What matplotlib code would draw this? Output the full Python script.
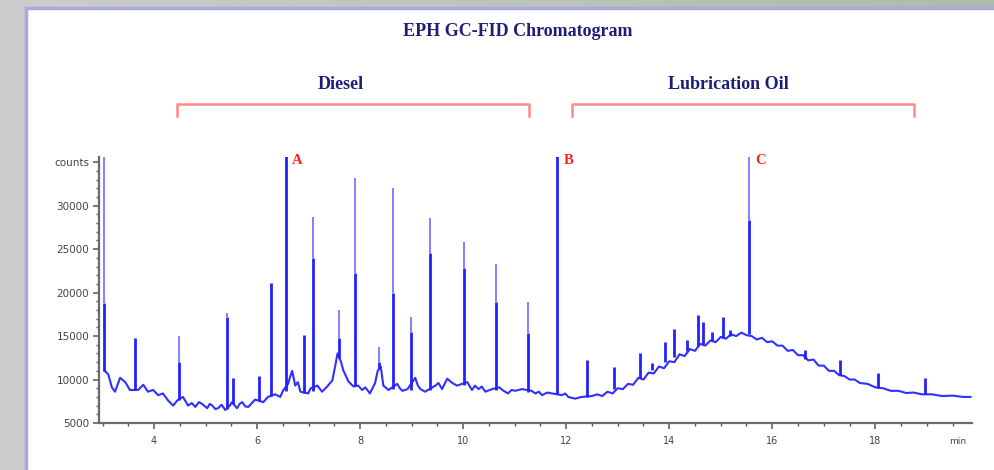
import matplotlib
matplotlib.use("Agg")
import matplotlib.pyplot as plt
import numpy as np
from matplotlib.patches import Rectangle
from matplotlib.ticker import MultipleLocator
import matplotlib.transforms as mtrans

# baseline of the trace (min, counts)
base_t = [3.04, 3.11, 3.18, 3.24, 3.34, 3.44, 3.53, 3.69, 3.79, 3.88, 3.98, 4.08,
          4.17, 4.27, 4.37, 4.45, 4.56, 4.66, 4.73, 4.80, 4.87, 4.93, 5.03, 5.08,
          5.13, 5.19, 5.24, 5.31, 5.38, 5.47, 5.51, 5.61, 5.66, 5.71, 5.77, 5.83,
          5.90, 5.96, 6.12, 6.21, 6.35, 6.45, 6.50, 6.60, 6.64, 6.68, 6.74, 6.79,
          6.84, 6.99, 7.04, 7.17, 7.26, 7.36, 7.46, 7.52, 7.56, 7.63, 7.67, 7.77,
          7.87, 7.96, 8.04, 8.10, 8.19, 8.29, 8.34, 8.40, 8.45, 8.55, 8.72, 8.77,
          8.82, 8.92, 9.07, 9.12, 9.17, 9.26, 9.46, 9.52, 9.59, 9.69, 9.79, 9.88,
          10.08, 10.17, 10.23, 10.30, 10.36, 10.43, 10.56, 10.70, 10.76, 10.87, 10.94,
          11.01, 11.14, 11.33, 11.40, 11.47, 11.53, 11.63, 11.73, 11.92, 11.98, 12.04,
          12.17, 12.30, 12.50, 12.60, 12.70, 12.80, 12.90, 13.00, 13.10, 13.20, 13.30,
          13.40, 13.50, 13.60, 13.70, 13.80, 13.90, 14.00, 14.10, 14.20, 14.30, 14.40,
          14.50, 14.60, 14.70, 14.80, 14.90, 15.00, 15.10, 15.20, 15.30, 15.40, 15.50,
          15.60, 15.70, 15.80, 15.90, 16.00, 16.10, 16.20, 16.30, 16.40, 16.50, 16.60,
          16.70, 16.80, 16.90, 17.00, 17.10, 17.20, 17.30, 17.40, 17.50, 17.60, 17.70,
          17.85, 18.00, 18.15, 18.30, 18.45, 18.60, 18.75, 18.90, 19.10, 19.30, 19.50,
          19.70, 19.85]
base_y = [11000, 10600, 9100, 8600, 10200, 9700, 8800, 8800, 9400, 8600, 8800, 8200,
          8400, 7600, 7000, 7600, 8000, 7000, 7300, 6850, 7400, 7200, 6700, 7200,
          7000, 6600, 6700, 7100, 6500, 7000, 7400, 6700, 7200, 7400, 6900, 6850,
          7300, 7700, 7400, 8000, 8300, 8000, 8700, 9500, 10300, 11000, 9300, 9700,
          8600, 8400, 9000, 9300, 8600, 9200, 9900, 11700, 13000, 12000, 11100, 9800,
          9200, 9300, 8800, 9100, 8400, 9600, 11000, 11500, 9300, 8800, 9500, 9000,
          8700, 8900, 10200, 9300, 8900, 8600, 9300, 9600, 8900, 10100, 9600, 9300,
          9700, 8800, 9300, 8900, 9200, 8600, 8900, 9100, 8800, 8400, 8800,
          8700, 8900, 8700, 8400, 8600, 8200, 8500, 8400, 8200, 8400, 8000,
          7800, 8000, 8100, 8300, 8100, 8600, 8400, 9000, 8900, 9500, 9400,
          10200, 10000, 10800, 10700, 11500, 11300, 12100, 12000, 12900, 12700, 13500,
          13300, 14100, 13900, 14500, 14300, 14900, 14700, 15200, 15000, 15400, 15100,
          15000, 14600, 14800, 14300, 14400, 13900, 13900, 13300, 13400, 12800, 12800,
          12200, 12300, 11600, 11600, 11000, 11000, 10500, 10400, 10000, 10000, 9600,
          9500, 9100, 9000, 8700, 8700, 8450, 8500, 8300, 8300, 8100, 8150,
          8000, 8000]

# peaks: retention time, apex, where the line turns pale, foot
peak_t = [3.03, 3.63, 4.49, 5.42, 5.53, 6.04, 6.27, 6.56, 6.91, 7.08, 7.59, 7.90,
          8.37, 8.64, 8.99, 9.36, 10.02, 10.64, 11.26, 11.83, 12.41, 12.93, 13.44,
          13.67, 13.92, 14.10, 14.35, 14.56, 14.66, 14.83, 15.05, 15.18, 15.55,
          16.64, 17.32, 18.06, 18.97]
peak_top = [40000, 14800, 15000, 17600, 10200, 10400, 21100, 40000, 15100, 28700, 18000, 33200,
            13700, 32000, 17200, 28600, 25800, 23300, 18900, 40000, 12200, 11400, 13000,
            11900, 14300, 15800, 14500, 17400, 16600, 15500, 17200, 15700, 40000,
            13400, 12200, 10750, 10200]
peak_core = [18800, 14800, 12000, 17200, 10200, 10400, 21100, 40000, 15100, 24000, 14800, 22250,
             12000, 20000, 15500, 24500, 22800, 18900, 15300, 40000, 12200, 11400, 13000,
             11900, 14300, 15800, 14500, 17400, 16600, 15500, 17200, 15700, 28300,
             13400, 12200, 10750, 10200]
peak_foot = [11000, 8900, 7700, 6600, 7200, 7500, 8100, 8700, 8500, 8700, 12500, 9200,
             11200, 8900, 8800, 8800, 9400, 8800, 8600, 8300, 8000, 8900, 10200,
             11100, 12000, 12600, 13300, 13900, 14100, 14400, 14800, 15000, 15200,
             12400, 10500, 9000, 8300]

peak_names = ["A", "B", "C"]
peak_name_t = [6.56, 11.83, 15.55]

# fuel ranges shown with brackets
ranges = ["Diesel", "Lubrication Oil"]
range_start = [4.45, 12.12]
range_end = [11.28, 18.76]
range_label_t = [7.63, 15.15]

y_ticks = [5000, 10000, 15000, 20000, 25000, 30000, 35000]
y_labels = ["5000", "10000", "15000", "20000", "25000", "30000", "counts"]
x_ticks = [4, 6, 8, 10, 12, 14, 16, 18]

fig = plt.figure(figsize=(9.95, 4.70), dpi=100)

# screenshot backdrop and white panel
bg = fig.add_axes([0, 0, 1, 1], zorder=-10)
grad = np.linspace(0, 1, 200)
left_c = np.array([205, 205, 205]) / 255
right_c = np.array([172, 188, 168]) / 255
img = (left_c[None, :] * (1 - grad[:, None]) + right_c[None, :] * grad[:, None])[None, :, :]
bg.imshow(img, extent=[0, 1, 0, 1], aspect="auto")
bg.add_patch(Rectangle((0.0261, -0.02), 1.0, 1.003, facecolor="white",
                       edgecolor="#a9a9dd", lw=2.5))
bg.set_xlim(0, 1)
bg.set_ylim(0, 1)
bg.axis("off")

ax = fig.add_axes([0.0995, 0.1, 0.8775, 0.566])
ax.set_facecolor("none")

ax.plot(base_t, base_y, color="#3030ff", lw=1.5)
ax.vlines(peak_t, peak_foot, peak_core, color="#2222ff", lw=2.0)
ax.vlines(peak_t, peak_core, peak_top, color="#8080ff", lw=1.4)

ax.set_xlim(2.93, 19.88)
ax.set_ylim(5000, 35600)

for s in ["top", "right"]:
    ax.spines[s].set_visible(False)
for s in ["left", "bottom"]:
    ax.spines[s].set_color("#6a6a6a")
    ax.spines[s].set_linewidth(1.6)

ax.set_xticks(x_ticks)
ax.xaxis.set_minor_locator(MultipleLocator(0.5))
ax.set_yticks(y_ticks)
ax.set_yticklabels(y_labels)
ax.yaxis.set_minor_locator(MultipleLocator(1000))
ax.tick_params(axis="both", which="major", length=4, width=1.1, color="#555555",
               labelcolor="#444444")
ax.tick_params(axis="both", which="minor", length=2.5, width=1.0, color="#555555")
ax.tick_params(axis="x", labelsize=7, pad=5)
ax.tick_params(axis="y", labelsize=7.5, pad=3)
ax.text(0.984, -0.068, "min", transform=ax.transAxes, fontsize=6.5,
        color="#444444", ha="center", va="center")

serif = "Liberation Serif"
for name, t in zip(peak_names, peak_name_t):
    ax.text(t + 0.12, 35150, name, color="#ff2020", fontsize=10.5, fontweight="bold",
            family=serif, ha="left", va="center", clip_on=False)

trans = mtrans.blended_transform_factory(ax.transData, ax.transAxes)
for name, t0, t1, tl in zip(ranges, range_start, range_end, range_label_t):
    ax.plot([t0, t0, t1, t1], [1.154, 1.199, 1.199, 1.154], transform=trans,
            color="#ff8a8a", lw=1.8, clip_on=False)
    ax.text(tl, 1.271, name, transform=trans, color="#1e1e78", fontsize=13,
            fontweight="bold", family=serif, ha="center", va="center")

fig.text(0.52, 0.934, "EPH GC-FID Chromatogram", color="#1e1e78", fontsize=13,
         fontweight="bold", family=serif, ha="center", va="center")

fig.savefig("out.png", dpi=100)
